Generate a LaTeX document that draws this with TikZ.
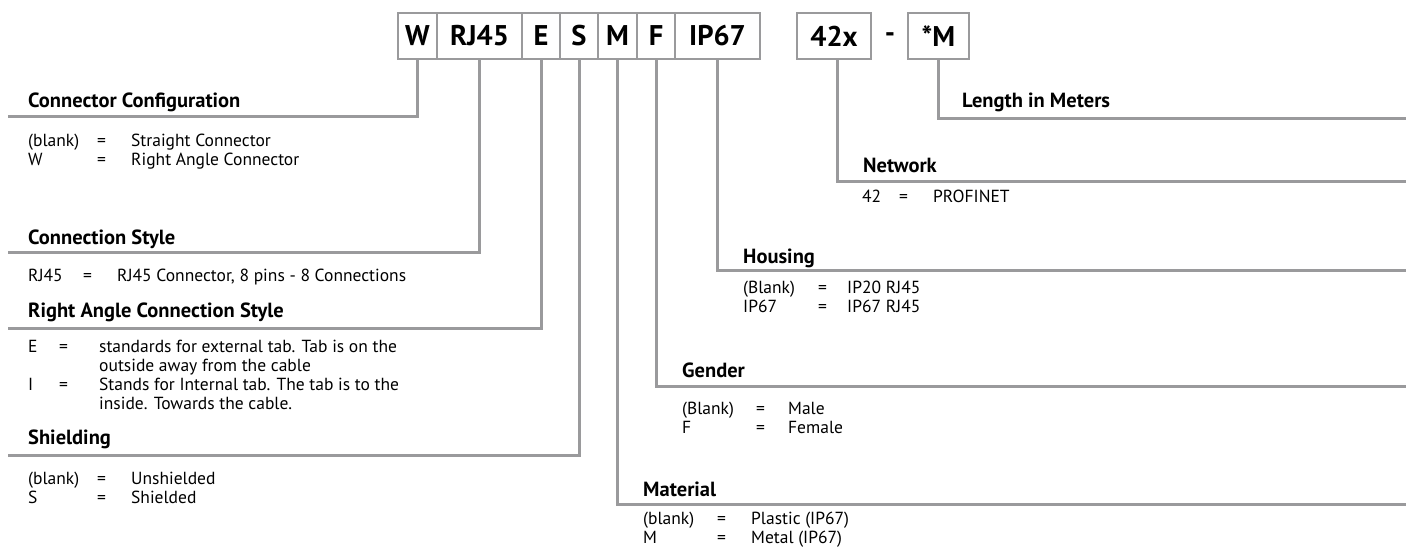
\documentclass[tikz,border=0pt]{standalone}
\usepackage{fontspec}
\setmainfont{PT Sans}
\usetikzlibrary{positioning}
\definecolor{lgray}{RGB}{154,154,156}
\newcommand{\kv}[3]{\begin{tabular}[t]{@{}p{#1}@{}p{#2}@{}l@{}}#3\end{tabular}}

\begin{document}
\begin{tikzpicture}[x=1pt,y=-1pt]

\tikzset{code/.style = {draw=lgray, line width=2.6pt, minimum height=46pt, inner sep=0pt, font=\fontsize{28.5}{28.5}\selectfont\bfseries}}
\tikzset{lead/.style = {draw=lgray, line width=3pt}}
\tikzset{head/.style = {anchor=base west, inner sep=0pt, font=\fontsize{20.5}{22}\selectfont\bfseries}}
\tikzset{rows/.style = {anchor=base west, inner sep=0pt, font=\fontsize{17.5}{19}\selectfont}}
\useasboundingbox (0,0) rectangle (1406,548);

% part number boxes
\node[code, minimum width=39pt] (bW) at (417.5,36) {W};
\node[code, minimum width=85pt] (bRJ) at (479.5,36) {RJ45};
\node[code, minimum width=38pt] (bE) at (541,36) {E};
\node[code, minimum width=38pt] (bS) at (579,36) {S};
\node[code, minimum width=39pt] (bM) at (617.5,36) {M};
\node[code, minimum width=38pt] (bF) at (656,36) {F};
\node[code, minimum width=85pt] (bIP) at (717.5,36) {IP67};
\node[code, minimum width=74pt] (bNet) at (834,36) {42x};
\node[font=\fontsize{28.5}{28.5}\selectfont\bfseries] (dash) at (890,38) {-};
\node[code, minimum width=61pt] (bLen) at (938.5,36) {*M};

% line ends
\coordinate (ccEnd) at (8,117);
\coordinate (csEnd) at (8,253);
\coordinate (raEnd) at (8,328);
\coordinate (shEnd) at (8,455);
\coordinate (lenEnd) at (1406,119);
\coordinate (netEnd) at (1406,182);
\coordinate (houEnd) at (1406,271);
\coordinate (genEnd) at (1406,386);
\coordinate (matEnd) at (1406,504);

% leads
\draw[lead] (bW.south) |- (ccEnd);
\draw[lead] (bRJ.south) |- (csEnd);
\draw[lead] (bE.south) |- (raEnd);
\draw[lead] (bS.south) |- (shEnd);
\draw[lead] (bM.south) |- (matEnd);
\draw[lead] (bF.south) |- (genEnd);
\draw[lead] (bIP.south) |- (houEnd);
\draw[lead] ([xshift=3pt]bNet.south) |- (netEnd);
\draw[lead] (bLen.south) |- (lenEnd);

% left column
\node[head] (ccHead) at (28,108) {Connector Configuration};
\node[rows] (ccRows) at (28,147) {\kv{69pt}{34pt}{(blank) & = & Straight Connector\\ W & = & Right Angle Connector}};
\node[head] (csHead) at (28,244) {Connection Style};
\node[rows] (csRows) at (28,282) {\kv{55pt}{34pt}{RJ45 & = & RJ45 Connector, 8 pins - 8 Connections}};
\node[head] (raHead) at (28,317) {Right Angle Connection Style};
\node[rows] (raRows) at (28,352) {\kv{31pt}{40pt}{E & = & standards for external tab. Tab is on the\\ & & outside away from the cable\\ I & = & Stands for Internal tab. The tab is to the\\ & & inside. Towards the cable.}};
\node[head] (shHead) at (28,444) {Shielding};
\node[rows] (shRows) at (28,484) {\kv{69pt}{34pt}{(blank) & = & Unshielded\\ S & = & Shielded}};

% right column
\node[head] (lenHead) at (962,108) {Length in Meters};
\node[head] (netHead) at (863,173) {Network};
\node[rows] (netRows) at (862,203) {\kv{37pt}{34pt}{42 & = & PROFINET}};
\node[head] (houHead) at (743,264) {Housing};
\node[rows] (houRows) at (743,293) {\kv{75pt}{29pt}{(Blank) & = & IP20 RJ45\\ IP67 & = & IP67 RJ45}};
\node[head] (genHead) at (682,377) {Gender};
\node[rows] (genRows) at (682,414) {\kv{74pt}{32pt}{(Blank) & = & Male\\ F & = & Female}};
\node[head] (matHead) at (643,496) {Material};
\node[rows] (matRows) at (643,524) {\kv{74pt}{34pt}{(blank) & = & Plastic (IP67)\\ M & = & Metal (IP67)}};
\end{tikzpicture}
\end{document}
